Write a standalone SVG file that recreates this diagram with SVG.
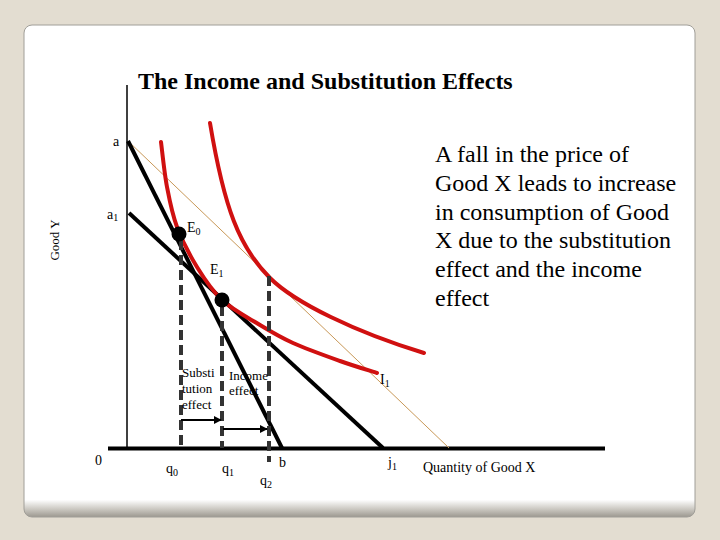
<svg xmlns="http://www.w3.org/2000/svg" width="720" height="540" viewBox="0 0 720 540">
<defs>
<linearGradient id="cardGrad" x1="0" y1="0" x2="0" y2="1">
<stop offset="0" stop-color="#ffffff"/>
<stop offset="0.965" stop-color="#ffffff"/>
<stop offset="0.985" stop-color="#c8c5be"/>
<stop offset="1" stop-color="#9c9890"/>
</linearGradient>
<marker id="arrow" viewBox="0 0 10 10" refX="9" refY="5" markerWidth="4" markerHeight="4" orient="auto" markerUnits="strokeWidth">
<path d="M0,0 L10,5 L0,10 Z" fill="#000"/>
</marker>
<style>
.lbl{font-family:"Liberation Serif","Times New Roman",serif;font-size:14px;fill:#000}
.small{font-family:"Liberation Serif","Times New Roman",serif;font-size:13px;fill:#000}
.sub{font-size:10px}
.title{font-family:"Liberation Serif","Times New Roman",serif;font-size:24px;font-weight:bold;fill:#000}
.body{font-family:"Liberation Serif","Times New Roman",serif;font-size:24px;fill:#000}
.budget{stroke:#000;stroke-width:4;fill:none;stroke-linecap:butt}
.ic{stroke:#d01010;stroke-width:4;fill:none;stroke-linecap:round}
.dash{stroke:#333;stroke-width:4;stroke-dasharray:10 5;fill:none}
.arr{stroke:#000;stroke-width:2;fill:none;marker-end:url(#arrow)}
</style>
</defs>
<rect x="0" y="0" width="720" height="540" fill="#e3ddd1"/>
<rect x="24" y="25" width="671" height="492" rx="8" ry="8" fill="url(#cardGrad)" stroke="#a09e98" stroke-width="1"/>

<g id="title"><text class="title" x="138" y="89">The Income and Substitution Effects</text></g>

<g id="axes">
<line x1="127" y1="85" x2="127" y2="448" stroke="#000" stroke-width="1.5"/>
<line x1="108" y1="448.5" x2="605" y2="448.5" stroke="#000" stroke-width="4"/>
<text class="small" transform="translate(58.5,240) rotate(-90)" text-anchor="middle">Good Y</text>
<text class="lbl" x="423" y="472">Quantity of Good X</text>
<text class="lbl" x="95" y="465">0</text>
</g>

<g id="connectors">
<line id="priceLine" x1="128" y1="141" x2="449" y2="448" stroke="#c89858" stroke-width="1"/>
<line id="budgetAB" class="budget" x1="128" y1="141" x2="282" y2="448"/>
<line id="budgetA1J1" class="budget" x1="129" y1="213" x2="383" y2="448"/>
<path id="I0" class="ic" d="M161,142 C162,149.5 164.3,172.8 167,187 C169.7,201.2 172,213.7 177,227 C182,240.3 189.5,254.8 197,267 C204.5,279.2 211.5,290.3 222,300 C232.5,309.7 248.2,317.8 260,325 C271.8,332.2 279.7,337 293,343 C306.3,349 326,356 340,361 C354,366 370.8,371 377,373"/>
<path id="I1curve" class="ic" d="M210,123 C224.25,208.5 239.25,247.25 270,278 C294.6,302.6 356.2,332.6 424,353"/>
<line class="dash" x1="181" y1="240" x2="181" y2="448"/>
<line class="dash" x1="222" y1="306" x2="222" y2="448"/>
<line class="dash" x1="269" y1="276" x2="269" y2="462"/>
<line class="arr" x1="181" y1="420" x2="221" y2="420"/>
<line class="arr" x1="223" y1="429" x2="267" y2="429"/>
</g>

<g id="E0">
<circle cx="179" cy="234" r="7.5" fill="#000"/>
<text class="lbl" x="187" y="232">E<tspan class="sub" dy="3">0</tspan></text>
</g>
<g id="E1">
<circle cx="222" cy="300" r="7.5" fill="#000"/>
<text class="lbl" x="210" y="274">E<tspan class="sub" dy="3">1</tspan></text>
</g>

<g id="labels">
<text class="lbl" x="113" y="146">a</text>
<text class="lbl" x="107" y="219">a<tspan class="sub" dy="2">1</tspan></text>
<text class="lbl" x="380" y="384">I<tspan class="sub" dy="3">1</tspan></text>
<text class="lbl" x="166" y="473">q<tspan class="sub" dy="3">0</tspan></text>
<text class="lbl" x="222" y="473">q<tspan class="sub" dy="3">1</tspan></text>
<text class="lbl" x="260" y="485">q<tspan class="sub" dy="3">2</tspan></text>
<text class="lbl" x="279" y="467">b</text>
<text class="lbl" x="388" y="467">j<tspan class="sub" dy="3">1</tspan></text>
<text class="small" x="182" y="377">Substi</text>
<text class="small" x="182" y="393">tution</text>
<text class="small" x="182" y="409">effect</text>
<text class="small" x="229" y="380">Income</text>
<text class="small" x="229" y="395">effect</text>
</g>

<g id="note">
<text class="body" x="435" y="162">A fall in the price of</text>
<text class="body" x="435" y="191">Good X leads to increase</text>
<text class="body" x="435" y="219.5">in consumption of Good</text>
<text class="body" x="435" y="248">X due to the substitution</text>
<text class="body" x="435" y="277">effect and the income</text>
<text class="body" x="435" y="305.5">effect</text>
</g>
</svg>
